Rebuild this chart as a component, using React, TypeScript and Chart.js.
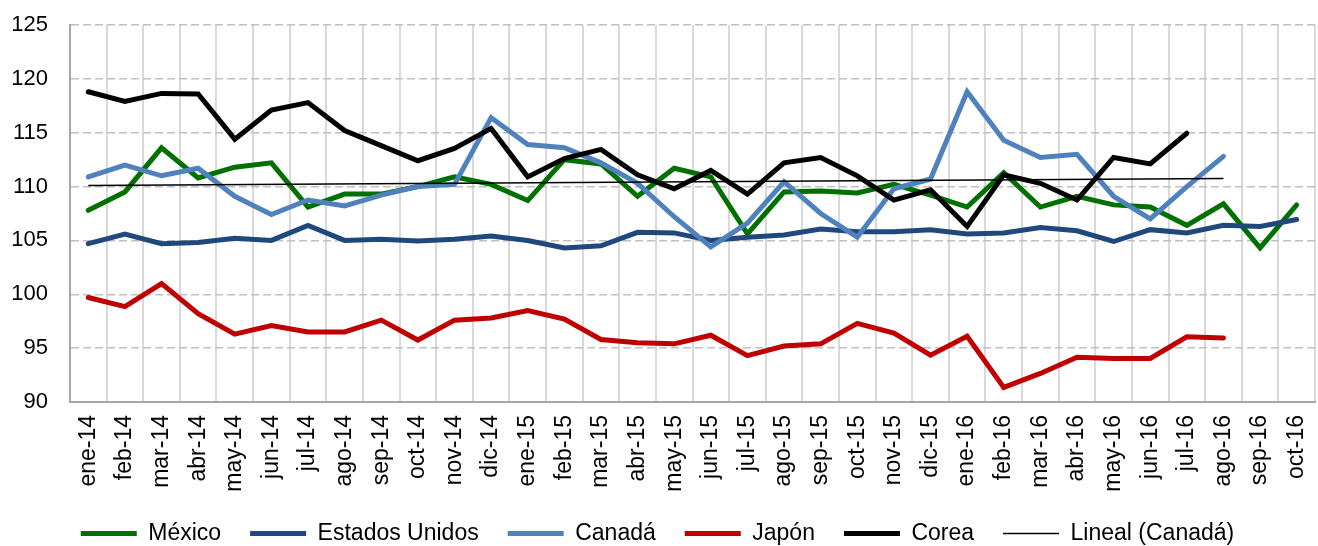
import React, { useEffect, useRef } from "react";
import { Chart, registerables } from "chart.js";

Chart.register(...registerables);

const categories = [
  "ene-14", "feb-14", "mar-14", "abr-14", "may-14", "jun-14", "jul-14", "ago-14", "sep-14", "oct-14", "nov-14", "dic-14",
  "ene-15", "feb-15", "mar-15", "abr-15", "may-15", "jun-15", "jul-15", "ago-15", "sep-15", "oct-15", "nov-15", "dic-15",
  "ene-16", "feb-16", "mar-16", "abr-16", "may-16", "jun-16", "jul-16", "ago-16", "sep-16", "oct-16",
];

const mexico = [
  107.8, 109.5, 113.6, 110.8, 111.8, 112.2, 108.1, 109.3, 109.3, 110.0, 110.9, 110.2,
  108.7, 112.5, 112.1, 109.1, 111.7, 110.9, 105.6, 109.5, 109.6, 109.4, 110.2, 109.2,
  108.1, 111.3, 108.1, 109.1, 108.3, 108.1, 106.4, 108.4, 104.3, 108.3,
];

const estadosUnidos = [
  104.7, 105.6, 104.7, 104.8, 105.2, 105.0, 106.4, 105.0, 105.1, 104.95, 105.1, 105.4,
  105.0, 104.3, 104.5, 105.75, 105.7, 105.0, 105.3, 105.5, 106.05, 105.8, 105.8, 106.0,
  105.6, 105.7, 106.2, 105.9, 104.9, 106.0, 105.7, 106.4, 106.3, 106.95,
];

const canada = [
  110.9, 112.0, 111.0, 111.7, 109.1, 107.4, 108.75, 108.2, 109.2, 110.0, 110.2, 116.4,
  113.9, 113.6, 112.2, 110.3, 107.2, 104.4, 106.6, 110.45, 107.5, 105.3, 109.8, 110.7,
  118.8, 114.3, 112.7, 113.0, 109.1, 107.0, 110.0, 112.8,
];

const japon = [
  99.7, 98.85, 101.0, 98.2, 96.3, 97.1, 96.5, 96.5, 97.6, 95.75, 97.6, 97.8,
  98.5, 97.7, 95.8, 95.5, 95.4, 96.2, 94.3, 95.2, 95.4, 97.3, 96.4, 94.35,
  96.1, 91.35, 92.65, 94.15, 94.05, 94.05, 96.05, 95.95,
];

const corea = [
  118.8, 117.9, 118.65, 118.6, 114.4, 117.1, 117.8, 115.2, 113.8, 112.4, 113.55, 115.4,
  110.9, 112.6, 113.45, 111.1, 109.8, 111.5, 109.3, 112.2, 112.7, 111.0, 108.75, 109.7,
  106.3, 111.1, 110.3, 108.75, 112.7, 112.1, 114.95,
];

// Linear trend of Canadá (start ene-14, end ago-16)
const trendCanadaStart = 110.1;
const trendCanadaEnd = 110.75;
const trendCanadaEndIndex = 31;

const yTicks = [90, 95, 100, 105, 110, 115, 120, 125];

const seriesNames = ["México", "Estados Unidos", "Canadá", "Japón", "Corea", "Lineal (Canadá)"];
const seriesColors = ["#007000", "#1f497d", "#4f81bd", "#c00000", "#000000", "#000000"];

const FONT = "'Liberation Sans', Arial, sans-serif";

export default function App() {
  const canvasRef = useRef<HTMLCanvasElement | null>(null);

  useEffect(() => {
    if (!canvasRef.current) return;
    const trendData: (number | null)[] = categories.map((_, i) =>
      i === 0 ? trendCanadaStart : i === trendCanadaEndIndex ? trendCanadaEnd : null
    );
    const values = [mexico, estadosUnidos, canada, japon, corea];
    const datasets: any[] = values.map((d, i) => ({
      label: seriesNames[i],
      data: d,
      borderColor: seriesColors[i],
      backgroundColor: seriesColors[i],
      borderWidth: 5,
      borderCapStyle: "round",
      borderJoinStyle: "miter",
      pointRadius: 0,
      pointHoverRadius: 0,
      pointStyle: "line",
      tension: 0,
      fill: false,
      order: 10 - i,
    }));
    datasets.push({
      label: seriesNames[5],
      data: trendData,
      borderColor: seriesColors[5],
      backgroundColor: seriesColors[5],
      borderWidth: 1.5,
      pointRadius: 0,
      pointHoverRadius: 0,
      pointStyle: "line",
      spanGaps: true,
      tension: 0,
      fill: false,
      order: 1,
    });

    const chart = new Chart(canvasRef.current, {
      type: "line",
      data: { labels: categories, datasets },
      options: {
        animation: false,
        responsive: false,
        maintainAspectRatio: false,
        layout: { padding: { left: 0, right: 3, top: 25, bottom: -9 } },
        plugins: {
          tooltip: { enabled: false },
          legend: {
            position: "bottom",
            labels: {
              usePointStyle: true,
              pointStyleWidth: 56,
              padding: 29,
              color: "#000",
              font: { family: FONT, size: 23 },
              sort: (a: any, b: any) => a.datasetIndex - b.datasetIndex,
            },
          },
        },
        scales: {
          x: {
            offset: true,
            grid: { color: "#d9d9d9", lineWidth: 2, drawTicks: false, offset: true },
            border: { color: "#a6a6a6", width: 2 },
            ticks: {
              color: "#000",
              font: { family: FONT, size: 23 },
              minRotation: 90,
              maxRotation: 90,
              autoSkip: false,
              padding: 13,
            },
            afterFit: (scale: any) => {
              scale.height = 91;
              scale.paddingLeft = 0;
              scale.paddingRight = 0;
            },
          },
          y: {
            min: 90,
            max: 125,
            afterBuildTicks: (scale: any) => {
              scale.ticks = yTicks.map((v) => ({ value: v }));
            },
            grid: { color: "#c0c0c0", lineWidth: 1.5, drawTicks: false },
            border: { color: "#a6a6a6", width: 2, dash: [8, 4] },
            ticks: {
              color: "#000",
              font: { family: FONT, size: 22 },
              padding: 22,
            },
            afterFit: (scale: any) => {
              scale.width = 70;
              scale.paddingTop = 0;
              scale.paddingBottom = 0;
            },
          },
        },
      },
    });
    return () => chart.destroy();
  }, []);

  return (
    <div style={{ position: "fixed", left: 0, top: 0, width: 1318, height: 546, background: "#fff" }}>
      <canvas ref={canvasRef} width={1318} height={546} style={{ display: "block" }} />
    </div>
  );
}
